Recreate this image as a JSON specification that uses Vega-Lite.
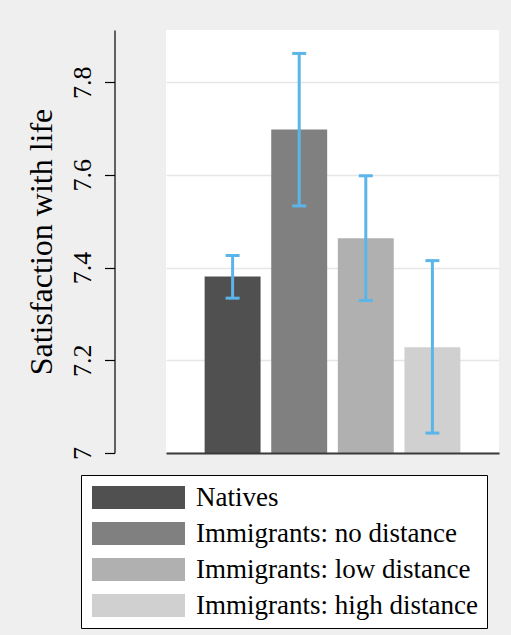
{
  "$schema": "https://vega.github.io/schema/vega-lite/v6.json",
  "autosize": {"type": "none"},
  "padding": {"left": 166, "top": 30, "right": 12, "bottom": 182},
  "width": 333,
  "height": 423,
  "background": "#efefef",
  "data": {
    "values": [
      {"group": "Natives", "mean": 7.381, "lo": 7.334, "hi": 7.426},
      {"group": "Immigrants: no distance", "mean": 7.698, "lo": 7.533, "hi": 7.862},
      {"group": "Immigrants: low distance", "mean": 7.463, "lo": 7.329, "hi": 7.598},
      {"group": "Immigrants: high distance", "mean": 7.228, "lo": 7.043, "hi": 7.415}
    ]
  },
  "encoding": {
    "x": {
      "field": "group",
      "type": "nominal",
      "sort": null,
      "scale": {"paddingInner": 0.16, "paddingOuter": 0.58},
      "axis": {
        "title": null,
        "labels": false,
        "ticks": false,
        "grid": false,
        "domain": true,
        "domainColor": "#3a3a3a",
        "domainWidth": 2,
        "zindex": 1
      }
    }
  },
  "layer": [
    {
      "mark": {"type": "bar"},
      "encoding": {
        "y": {
          "field": "mean",
          "type": "quantitative",
          "title": "Satisfaction with life",
          "scale": {"domain": [7, 7.9125], "nice": false, "zero": false},
          "axis": {
            "offset": 51.5,
            "values": [7, 7.2, 7.4, 7.6, 7.8],
            "format": "~g",
            "grid": true,
            "gridColor": "#e6e6e6",
            "gridWidth": 1.5,
            "domainColor": "black",
            "domainWidth": 1.2,
            "tickColor": "black",
            "tickWidth": 1.2,
            "tickSize": 10,
            "labelAngle": -90,
            "labelAlign": "center",
            "labelBaseline": "alphabetic",
            "labelPadding": 14.5,
            "labelFontSize": 26,
            "labelColor": "black",
            "labelFont": "Liberation Serif",
            "titleFont": "Liberation Serif",
            "titleFontSize": 32,
            "titleFontWeight": "normal",
            "titleColor": "black",
            "titleAngle": -90,
            "titleBaseline": "alphabetic",
            "titleX": -62.8,
            "titleY": 211.5,
            "titleAnchor": "middle"
          }
        },
        "y2": {"datum": 7},
        "color": {
          "field": "group",
          "type": "nominal",
          "sort": null,
          "scale": {
            "domain": ["Natives", "Immigrants: no distance", "Immigrants: low distance", "Immigrants: high distance"],
            "range": ["#505050", "#808080", "#b0b0b0", "#d0d0d0"]
          },
          "legend": {
            "title": null,
            "orient": "none",
            "legendX": -85,
            "legendY": 445,
            "direction": "vertical"
          }
        }
      }
    },
    {
      "mark": {"type": "rule", "color": "#5bb5e8", "strokeWidth": 3},
      "encoding": {
        "y": {"field": "lo", "type": "quantitative", "title": "Satisfaction with life"},
        "y2": {"field": "hi"}
      }
    },
    {
      "mark": {"type": "tick", "color": "#5bb5e8", "size": 14, "thickness": 3, "opacity": 1},
      "encoding": {
        "y": {"field": "lo", "type": "quantitative", "title": "Satisfaction with life"}
      }
    },
    {
      "mark": {"type": "tick", "color": "#5bb5e8", "size": 14, "thickness": 3, "opacity": 1},
      "encoding": {
        "y": {"field": "hi", "type": "quantitative", "title": "Satisfaction with life"}
      }
    }
  ],
  "config": {
    "font": "Liberation Serif",
    "view": {"fill": "white", "stroke": null},
    "legend": {
      "symbolType": "M-1,-1H7.087V1H-1Z",
      "symbolSize": 529,
      "symbolStrokeWidth": 0,
      "symbolOpacity": 1,
      "labelFont": "Liberation Serif",
      "labelFontSize": 27,
      "labelColor": "black",
      "labelOffset": 79,
      "labelLimit": 0,
      "padding": 9,
      "rowPadding": 8,
      "fillColor": "white",
      "strokeColor": "black"
    }
  }
}
